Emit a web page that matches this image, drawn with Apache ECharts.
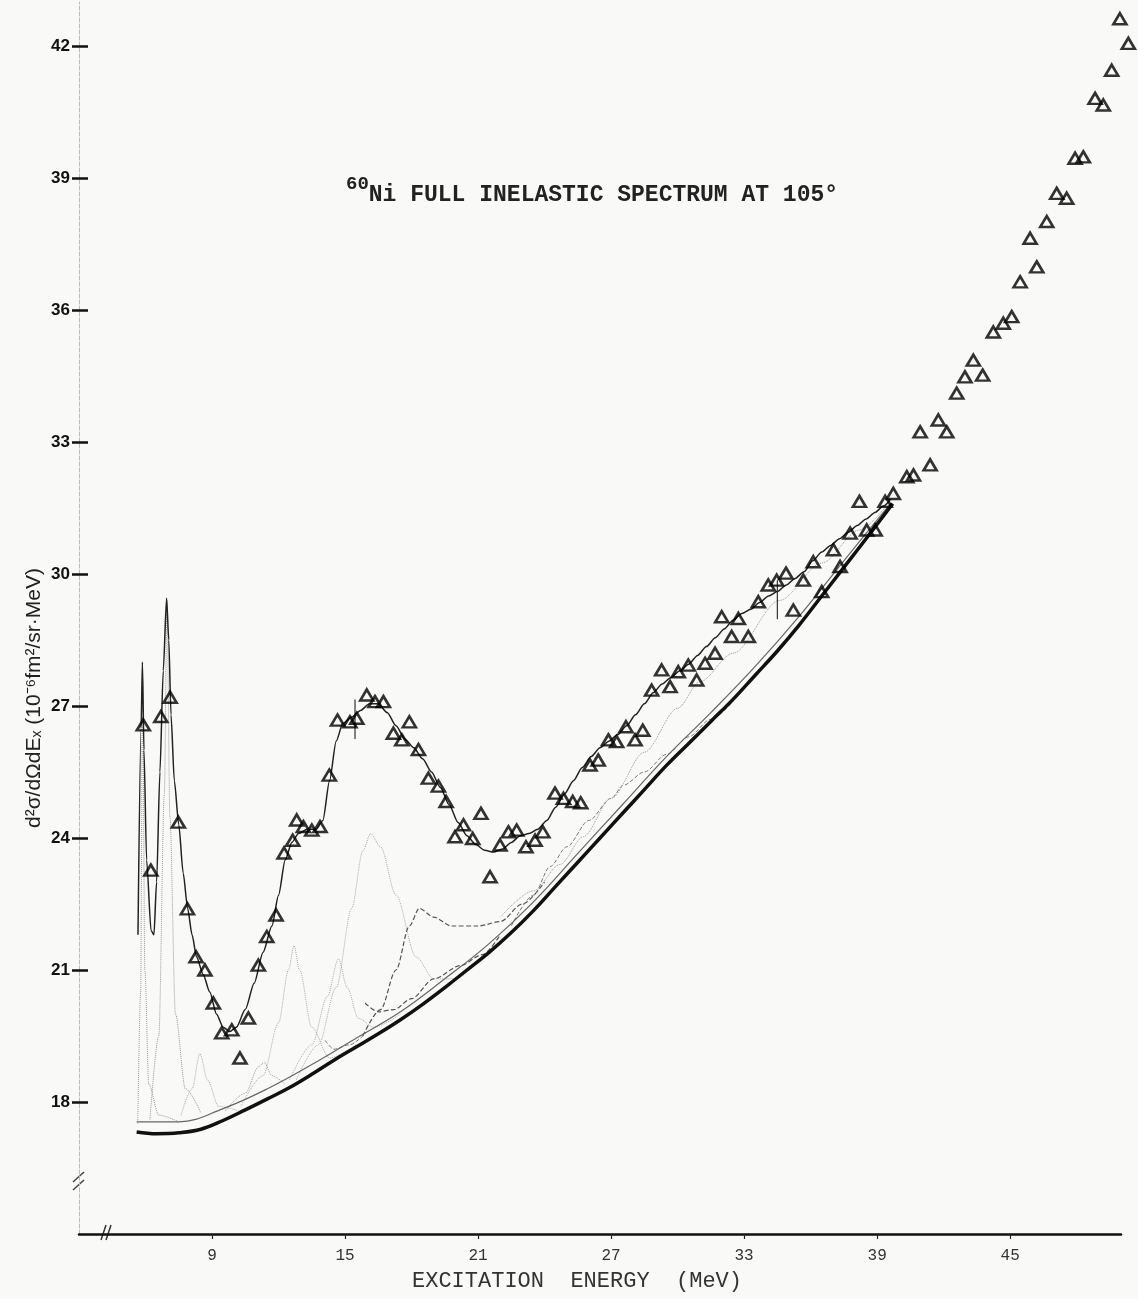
<!DOCTYPE html>
<html>
<head>
<meta charset="utf-8">
<script src="https://cdn.jsdelivr.net/npm/echarts@6/dist/echarts.min.js"></script>
<style>
html,body{margin:0;padding:0;background:#f9f9f7;}
#chart{width:1138px;height:1299px;}
</style>
</head>
<body>
<div id="chart"></div>
<script>
// ---- tick labels ----
const xTicks = [9, 15, 21, 27, 33, 39, 45];
const yTicks = [18, 21, 24, 27, 30, 33, 36, 39, 42];

// ---- measured data points (excitation energy MeV, cross section) ----
const dataPoints = [
[5.90,26.57],[6.24,23.27],[6.69,26.76],[7.11,27.20],[7.48,24.36],[7.89,22.39],[8.28,21.30],[8.68,21.00],
[9.06,20.25],[9.44,19.57],[9.89,19.64],[10.26,19.00],[10.64,19.91],[11.09,21.11],[11.47,21.76],[11.89,22.25],
[12.25,23.66],[12.64,23.95],[12.82,24.41],[13.12,24.26],[13.50,24.18],[13.87,24.26],[14.29,25.43],[14.66,26.68],
[15.22,26.64],[15.53,26.72],[15.98,27.25],[16.35,27.10],[16.73,27.10],[17.18,26.38],[17.56,26.23],[17.90,26.64],
[18.31,26.01],[18.76,25.36],[19.21,25.18],[19.56,24.83],[19.96,24.03],[20.34,24.30],[20.76,23.99],[21.13,24.56],
[21.54,23.12],[21.99,23.84],[22.37,24.14],[22.74,24.18],[23.16,23.80],[23.57,23.95],[23.92,24.14],[24.47,25.02],
[24.85,24.90],[25.27,24.83],[25.63,24.80],[26.05,25.66],[26.42,25.77],[26.88,26.23],[27.25,26.19],[27.67,26.53],
[28.08,26.23],[28.43,26.45],[28.83,27.36],[29.28,27.82],[29.66,27.44],[30.03,27.78],[30.48,27.93],[30.86,27.59],
[31.24,27.97],[31.69,28.20],[31.99,29.03],[32.44,28.58],[32.74,28.99],[33.19,28.58],[33.64,29.37],[34.09,29.75],
[34.47,29.86],[34.89,30.02],[35.22,29.18],[35.67,29.86],[36.12,30.28],[36.50,29.60],[37.03,30.55],[37.33,30.17],
[37.78,30.93],[38.20,31.65],[38.53,31.00],[38.91,31.00],[39.36,31.65],[39.73,31.83],[40.34,32.21],[40.64,32.25],
[40.94,33.23],[41.39,32.48],[41.76,33.50],[42.14,33.23],[42.59,34.11],[42.96,34.48],[43.34,34.86],[43.76,34.52],
[44.24,35.50],[44.69,35.70],[45.07,35.85],[45.45,36.64],[45.90,37.63],[46.20,36.98],[46.65,38.01],[47.10,38.65],
[47.55,38.54],[47.93,39.45],[48.30,39.48],[48.83,40.81],[49.20,40.66],[49.58,41.45],[49.95,42.62],[50.33,42.06]
];

// ---- total fit curve ----
const fitCurve = [
[5.66,21.8],[5.80,26.5],[5.86,28.0],[5.93,26.0],[6.05,23.5],[6.25,21.9],[6.38,21.8],[6.50,23.0],[6.65,25.5],
[6.80,27.8],[6.95,29.45],[7.05,28.5],[7.15,26.8],[7.30,25.3],[7.50,24.3],[7.70,23.2],[7.90,22.4],[8.10,21.8],
[8.30,21.3],[8.60,20.9],[8.90,20.5],[9.20,20.0],[9.50,19.7],[9.80,19.6],[10.10,19.7],[10.50,20.1],[10.90,20.7],
[11.30,21.4],[11.70,22.0],[12.00,22.7],[12.30,23.5],[12.60,23.9],[12.90,24.1],[13.30,24.2],[13.70,24.2],
[14.00,24.4],[14.30,25.3],[14.60,26.2],[14.90,26.6],[15.30,26.75],[15.70,26.9],[16.10,27.05],[16.50,27.05],
[16.90,26.85],[17.30,26.55],[17.70,26.25],[18.10,26.05],[18.50,25.8],[18.90,25.5],[19.30,25.15],[19.70,24.75],
[20.10,24.35],[20.50,24.05],[20.90,23.85],[21.30,23.72],[21.70,23.68],[22.10,23.75],[22.50,23.9],[22.90,24.05],
[23.30,24.1],[23.70,24.2],[24.10,24.4],[24.50,24.7],[24.90,25.0],[25.30,25.3],[25.70,25.6],[26.10,25.85],
[26.50,26.05],[26.90,26.2],[27.30,26.35],[27.70,26.55],[28.10,26.8],[28.50,27.05],[28.90,27.3],[29.30,27.5],
[29.70,27.65],[30.10,27.8],[30.50,27.95],[30.90,28.15],[31.30,28.35],[31.70,28.55],[32.10,28.75],[32.50,28.95],
[32.90,29.1],[33.30,29.2],[33.70,29.35],[34.10,29.5],[34.50,29.6],[34.90,29.75],[35.30,29.9],[35.70,30.05],
[36.10,30.3],[36.50,30.5],[36.90,30.65],[37.30,30.8],[37.70,30.95],[38.10,31.1],[38.50,31.25],[38.90,31.4],
[39.30,31.55],[39.60,31.7]
];

// ---- background (thick) and its companion curve ----
const background = [
[5.6,17.32],[6.5,17.28],[7.5,17.3],[8.5,17.38],[9.5,17.58],[10.5,17.82],[11.5,18.07],[12.5,18.33],[13.5,18.63],
[14.5,18.95],[15.5,19.25],[16.5,19.55],[17.5,19.87],[18.5,20.22],[19.5,20.6],[20.5,21.0],[21.5,21.4],[22.5,21.85],
[23.5,22.35],[24.5,22.9],[25.5,23.45],[26.5,24.0],[27.5,24.55],[28.5,25.1],[29.5,25.65],[30.5,26.15],[31.5,26.65],
[32.5,27.15],[33.5,27.7],[34.5,28.25],[35.5,28.85],[36.5,29.5],[37.5,30.15],[38.5,30.8],[39.7,31.6]
];
const background2 = [
[5.6,17.55],[7.5,17.55],[9.5,17.85],[11.5,18.3],[13.5,18.85],[15.5,19.45],[17.5,20.05],[19.5,20.8],[21.5,21.6],
[23.5,22.55],[25.5,23.65],[27.5,24.75],[29.5,25.85],[31.5,26.85],[33.5,27.9],[35.5,29.05],[37.5,30.3],[39.6,31.6]
];

// ---- individual peak components ----
const comp1 = [[5.65,17.5],[5.78,20.5],[5.87,27.6],[5.97,21.0],[6.15,18.4],[6.6,17.7],[7.5,17.55]];
const comp2 = [[6.2,17.6],[6.6,19.5],[6.85,25.0],[6.97,29.4],[7.1,24.5],[7.35,20.0],[7.8,18.3],[8.5,17.75]];
const comp3 = [[7.6,17.7],[8.1,18.3],[8.45,19.1],[8.8,18.5],[9.3,17.9],[10.2,17.8]];
const comp4 = [[9.6,17.8],[10.5,18.2],[11.1,18.8],[11.35,18.9],[11.7,18.6],[12.3,18.4]];
const comp5 = [[10.3,17.9],[11.3,18.6],[12.0,19.8],[12.45,21.0],[12.7,21.55],[12.95,21.0],[13.5,19.7],[14.3,19.0],[15.5,19.3]];
const comp6 = [[12.5,18.5],[13.5,19.3],[14.2,20.4],[14.7,21.25],[15.1,20.6],[15.6,19.9],[16.3,19.7],[17.5,20.0]];
const comp7 = [[12.8,18.5],[13.8,19.3],[14.6,20.6],[15.3,22.4],[15.8,23.7],[16.15,24.1],[16.6,23.8],[17.3,22.7],[18.2,21.3],[19.0,20.8],[20.0,20.8],[21.0,21.2]];
const comp8 = [[15.8,19.5],[16.6,20.1],[17.3,21.0],[17.9,22.0],[18.35,22.4],[19.0,22.2],[19.8,22.0],[21.0,22.0],[22.0,22.1],[23.0,22.5],[24.0,23.0]];
const comp9 = [[15.9,20.25],[16.5,20.05],[17.2,20.1],[18.0,20.35],[19.0,20.8],[20.2,21.1],[21.2,21.35],[22.0,21.8]];
const comp10 = [[14.1,19.4],[14.5,19.2],[15.2,19.3],[16.0,19.6]];
const comp11 = [[22.5,22.0],[23.5,22.7],[24.25,23.35],[25.0,23.8],[26.0,24.4],[27.0,24.9],[27.56,25.2],[28.5,25.5],[29.5,25.9],[30.5,26.3],[31.5,26.7],[32.5,27.1]];
const comp12 = [[22.0,22.2],[23.5,22.8],[24.7,23.4],[25.75,24.03],[27.0,24.9],[28.5,25.95],[30.0,26.95],[31.0,27.55],[32.5,28.2],[34.6,29.4],[36.5,30.25],[38.2,31.0],[39.5,31.6]];

// ---- error bars ----
const errorBars = [[15.45,26.25],[15.45,27.15],'-',[34.5,28.97],[34.5,29.86]];

const chart = echarts.init(document.getElementById('chart'));
const mono = '"Liberation Mono", "DejaVu Sans Mono", monospace';

function compSeries(d, color, type, width) {
  return {type:'line', data:d, showSymbol:false, smooth:0.3, smoothMonotone:'x', silent:true,
    lineStyle:{color:color, width:width||1, type:type||'dotted'}, z:2};
}

const option = {
  backgroundColor:'#f9f9f7',
  animation:false,
  title:{
    text:'{a|60}{b|Ni FULL INELASTIC SPECTRUM AT 105°}',
    left:341, top:170,
    textStyle:{
      rich:{
        a:{fontFamily:mono, fontSize:19, color:'#222', verticalAlign:'top', lineHeight:32},
        b:{fontFamily:mono, fontSize:23, color:'#222', verticalAlign:'bottom', lineHeight:32}
      }
    }
  },
  grid:{left:79, right:17, top:2, bottom:65, containLabel:false},
  xAxis:{
    type:'value', min:3, max:50, interval:6,
    name:'EXCITATION  ENERGY  (MeV)', nameLocation:'middle', nameGap:36,
    nameTextStyle:{fontFamily:mono, fontSize:22, color:'#333', padding:[0,46,0,0]},
    axisLine:{show:true, lineStyle:{color:'#111', width:2.5}},
    axisTick:{show:true, inside:false, length:5, customValues:xTicks, lineStyle:{color:'#222', width:1.2}},
    axisLabel:{customValues:xTicks, fontFamily:mono, fontSize:16, color:'#333', margin:14},
    splitLine:{show:false}
  },
  yAxis:[{
    type:'value', min:15, max:43, interval:3,
    axisLine:{show:true, lineStyle:{color:'#bbb', width:1, type:'dashed'}},
    axisTick:{show:true, inside:false, length:7, customValues:yTicks, lineStyle:{color:'#111', width:2.5}},
    axisLabel:{customValues:yTicks, fontFamily:'"Liberation Sans Narrow","Liberation Sans",sans-serif', fontWeight:'bold', fontSize:17, color:'#111', margin:9},
    splitLine:{show:false}
  },{
    type:'value', min:15, max:43, interval:3, position:'left', offset:0,
    axisLine:{show:false},
    axisTick:{show:true, inside:true, length:9, customValues:yTicks, lineStyle:{color:'#111', width:2.5}},
    axisLabel:{show:false},
    splitLine:{show:false}
  }],
  graphic:[
    {type:'text', x:34, y:698, rotation:Math.PI/2,
      style:{text:'d²σ/dΩdEₓ (10⁻⁶fm²/sr·MeV)', font:'21px "Liberation Sans", sans-serif', fill:'#222', textAlign:'center', textVerticalAlign:'middle'}},
    {type:'line', shape:{x1:101, y1:1240, x2:106, y2:1225}, style:{stroke:'#333', lineWidth:1.5}},
    {type:'line', shape:{x1:106, y1:1240, x2:111, y2:1225}, style:{stroke:'#333', lineWidth:1.5}},
    {type:'line', shape:{x1:73, y1:1182, x2:84, y2:1172}, style:{stroke:'#444', lineWidth:1.5}},
    {type:'line', shape:{x1:73, y1:1190, x2:84, y2:1180}, style:{stroke:'#444', lineWidth:1.5}}
  ],
  series:[
    compSeries(comp1,'#999','dotted',1),
    compSeries(comp2,'#999','dotted',1),
    compSeries(comp3,'#aaa','dotted',1),
    compSeries(comp4,'#999','dotted',1),
    compSeries(comp5,'#aaa','dotted',1),
    compSeries(comp6,'#aaa','dotted',1),
    compSeries(comp7,'#aaa','dotted',1),
    compSeries(comp8,'#555','dashed',1.2),
    compSeries(comp9,'#555','dashed',1.2),
    compSeries(comp10,'#777','dashed',1),
    compSeries(comp11,'#777','dashed',1),
    compSeries(comp12,'#999','dotted',1),
    {type:'line', data:background2, showSymbol:false, smooth:0.4, silent:true, lineStyle:{color:'#666', width:1.2}, z:3},
    {type:'line', data:background, showSymbol:false, smooth:0.4, silent:true, lineStyle:{color:'#111', width:3.5}, z:4},
    {type:'line', data:fitCurve, showSymbol:false, smooth:0.25, smoothMonotone:'x', silent:true, lineStyle:{color:'#222', width:1.5}, z:5},
    {type:'line', data:errorBars, showSymbol:false, connectNulls:false, silent:true, lineStyle:{color:'#333', width:1.2}, z:5},
    {type:'scatter', data:dataPoints, clip:false, symbol:'path://M10,0 L20,17 L0,17 Z', symbolSize:[13,11],
      itemStyle:{color:'rgba(0,0,0,0)', borderColor:'#000', borderWidth:2.6}, z:6}
  ]
};
chart.setOption(option);
</script>
</body>
</html>
